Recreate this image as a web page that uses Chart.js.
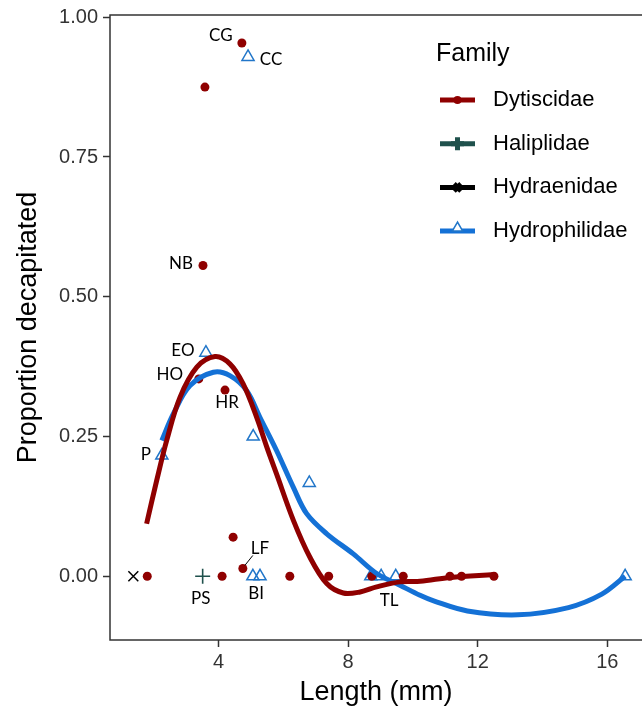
<!DOCTYPE html>
<html>
<head>
<meta charset="utf-8">
<script src="https://cdn.jsdelivr.net/npm/chart.js@4.4.0/dist/chart.umd.min.js"></script>
<style>
    html, body { margin: 0; padding: 0; background: #fff; }
    canvas { display: block; }
</style>
</head>
<body>
<canvas id="beetleChart" width="642" height="711"></canvas>
<script>
// families
var families = ['Dytiscidae', 'Haliplidae', 'Hydraenidae', 'Hydrophilidae'];

// observed points, length (mm) vs proportion decapitated
var dytiscidaeX = [1.80, 3.39, 3.52, 3.58, 4.11, 4.20, 4.45, 4.72, 4.75, 6.20, 7.40, 8.73, 9.70, 11.14, 11.50, 12.50];
var dytiscidaeY = [0, 0.353, 0.556, 0.875, 0, 0.333, 0.07, 0.954, 0.014, 0, 0, 0, 0, 0, 0, 0];
var haliplidaeX = [3.51];
var haliplidaeY = [0];
var hydraenidaeX = [1.37];
var hydraenidaeY = [0];
var hydrophilidaeX = [2.25, 3.61, 4.91, 5.07, 5.06, 5.28, 6.80, 8.70, 9.02, 9.47, 16.55];
var hydrophilidaeY = [0.216, 0.40, 0.929, 0.25, 0, 0, 0.167, 0, 0, 0, 0];

// smoothed curves
var dytiscidaeFitX = [1.78, 2.09, 2.40, 2.81, 3.33, 3.89, 4.35, 4.76, 5.18, 5.49, 5.79, 6.31, 6.82, 7.34, 7.85, 8.37, 8.88, 9.60, 10.22, 11.16, 12.50];
var dytiscidaeFitY = [0.094, 0.171, 0.243, 0.320, 0.374, 0.393, 0.380, 0.344, 0.284, 0.231, 0.183, 0.100, 0.034, -0.013, -0.030, -0.028, -0.019, -0.010, -0.009, -0.002, 0.003];
var hydrophilidaeFitX = [2.25, 2.60, 3.12, 3.84, 4.35, 4.87, 5.28, 5.79, 6.31, 6.72, 7.34, 8.16, 8.88, 9.60, 10.22, 10.64, 11.68, 13.24, 14.80, 15.83, 16.55];
var hydrophilidaeFitY = [0.243, 0.290, 0.341, 0.365, 0.359, 0.332, 0.284, 0.225, 0.159, 0.112, 0.076, 0.040, 0.005, -0.016, -0.034, -0.044, -0.062, -0.069, -0.056, -0.032, 0.0];

// point labels
var pointLabels = ['CG', 'CC', 'NB', 'EO', 'HO', 'HR', 'P', 'LF', 'PS', 'BI', 'TL'];
var labelAtX = [4.72, 4.91, 3.52, 3.61, 3.39, 4.20, 2.25, 4.75, 3.51, 5.28, 9.02];
var labelAtY = [0.954, 0.929, 0.556, 0.40, 0.353, 0.333, 0.216, 0.014, 0, 0, 0];

var xTicks = [4, 8, 12, 16];
var yTicks = [0, 0.25, 0.5, 0.75, 1];

var red = '#8f0000';
var teal = '#1f514c';
var blue = '#1471d6';
var blueMark = '#2176c9';
var axisFont = '"Liberation Sans", Arial, sans-serif';

function toPoints(xs, ys) {
    return xs.map(function (x, i) { return { x: x, y: ys[i] }; });
}

// label offsets in px from their point
var labelOffsets = [[-21, -7], [23, 3], [-22, -2], [-23, -2], [-29, -4], [2, 12], [-16, -1], [17, -20], [-2, 22], [-4, 17], [8, 24]];

var labelPlugin = {
    id: 'pointLabels',
    afterDatasetsDraw: function (chart) {
        var ctx = chart.ctx;
        var xs = chart.scales.x, ys = chart.scales.y;
        ctx.save();
        ctx.font = '17px Lato, "Open Sans", sans-serif';
        ctx.fillStyle = '#000';
        ctx.textAlign = 'center';
        ctx.textBaseline = 'middle';
        pointLabels.forEach(function (txt, i) {
            var px = xs.getPixelForValue(labelAtX[i]);
            var py = ys.getPixelForValue(labelAtY[i]);
            var o = labelOffsets[i];
            ctx.fillText(txt, px + o[0], py + o[1]);
            if (txt === 'LF') {
                ctx.strokeStyle = '#000';
                ctx.lineWidth = 1;
                ctx.beginPath();
                ctx.moveTo(px + 2, py - 3);
                ctx.lineTo(px + 10, py - 13);
                ctx.stroke();
            }
        });
        ctx.restore();
    }
};

var framePlugin = {
    id: 'panelFrame',
    afterDraw: function (chart) {
        var a = chart.chartArea, ctx = chart.ctx;
        ctx.save();
        ctx.strokeStyle = '#333';
        ctx.lineWidth = 1.5;
        ctx.strokeRect(a.left, a.top, a.right - a.left + 10, a.bottom - a.top);
        ctx.restore();
    }
};

var legendPlugin = {
    id: 'familyLegend',
    afterDraw: function (chart) {
        var ctx = chart.ctx;
        var colors = [red, teal, '#000', blue];
        var styles = ['circle', 'cross', 'crossRot'];
        var radii = [4, 6.5, 5];
        ctx.save();
        ctx.fillStyle = '#000';
        ctx.font = '25px ' + axisFont;
        ctx.textBaseline = 'alphabetic';
        ctx.fillText('Family', 436, 61);
        ctx.font = '22px ' + axisFont;
        ctx.textBaseline = 'middle';
        families.forEach(function (name, i) {
            var y = 100 + i * 43.7;
            ctx.strokeStyle = colors[i];
            ctx.lineWidth = 5;
            ctx.beginPath();
            ctx.moveTo(440, y);
            ctx.lineTo(475, y);
            ctx.stroke();
            if (i === 3) {
                // open triangle sitting on the line
                ctx.beginPath();
                ctx.moveTo(457.5, y - 9);
                ctx.lineTo(452.3, y);
                ctx.lineTo(462.7, y);
                ctx.closePath();
                ctx.fillStyle = '#fff';
                ctx.fill();
                ctx.lineWidth = 1.5;
                ctx.strokeStyle = blueMark;
                ctx.stroke();
            } else {
                ctx.fillStyle = colors[i];
                Chart.helpers.drawPoint(ctx, {
                    pointStyle: styles[i], radius: radii[i], rotation: 0,
                    borderWidth: i === 0 ? 0 : 1.5
                }, 457.5, y);
            }
            ctx.fillStyle = '#000';
            ctx.fillText(name, 493, y);
        });
        ctx.restore();
    }
};

var beetleChart = document.getElementById('beetleChart').getContext('2d');

new Chart(beetleChart, {
    type: 'scatter',
    data: {
        datasets: [
            {
                label: 'Dytiscidae fit',
                data: toPoints(dytiscidaeFitX, dytiscidaeFitY),
                showLine: true, borderColor: red, borderWidth: 5, pointRadius: 0,
                tension: 0.35, order: 0
            },
            {
                label: 'Hydrophilidae fit',
                data: toPoints(hydrophilidaeFitX, hydrophilidaeFitY),
                showLine: true, borderColor: blue, borderWidth: 5, pointRadius: 0,
                tension: 0.35, order: 0
            },
            {
                label: 'Dytiscidae',
                data: toPoints(dytiscidaeX, dytiscidaeY),
                pointStyle: 'circle', pointRadius: 4.5, backgroundColor: red,
                borderColor: red, borderWidth: 0, order: 1
            },
            {
                label: 'Haliplidae',
                data: toPoints(haliplidaeX, haliplidaeY),
                pointStyle: 'cross', pointRadius: 7.5, borderColor: teal,
                borderWidth: 1.6, order: 1
            },
            {
                label: 'Hydraenidae',
                data: toPoints(hydraenidaeX, hydraenidaeY),
                pointStyle: 'crossRot', pointRadius: 7, borderColor: '#000',
                borderWidth: 1.5, order: 1
            },
            {
                label: 'Hydrophilidae',
                data: toPoints(hydrophilidaeX, hydrophilidaeY),
                pointStyle: 'triangle', pointRadius: 7, borderColor: blueMark,
                backgroundColor: 'rgba(255,255,255,0)', borderWidth: 1.5, order: 1
            }
        ]
    },
    options: {
        responsive: false,
        animation: false,
        layout: { autoPadding: false, padding: { top: 15, right: 0, left: 0, bottom: 0 } },
        plugins: {
            legend: { display: false },
            tooltip: { enabled: false }
        },
        scales: {
            x: {
                type: 'linear',
                min: 0.65,
                max: 17.07,
                afterFit: function (s) { s.height = 71; s.paddingLeft = 0; s.paddingRight = 0; },
                afterBuildTicks: function (s) { s.ticks = xTicks.map(function (v) { return { value: v }; }); },
                ticks: { font: { family: axisFont, size: 20 }, color: '#333', padding: 3 },
                grid: { drawOnChartArea: false, tickLength: 7, tickWidth: 1.5, tickColor: '#333' },
                border: { display: false },
                title: { display: true, text: 'Length (mm)', color: '#000', font: { family: axisFont, size: 27 }, padding: { bottom: 2 } }
            },
            y: {
                type: 'linear',
                min: -0.114,
                max: 1.004,
                afterFit: function (s) { s.width = 110; s.paddingTop = 0; s.paddingBottom = 0; },
                afterBuildTicks: function (s) { s.ticks = yTicks.map(function (v) { return { value: v }; }); },
                ticks: {
                    font: { family: axisFont, size: 20 }, color: '#333', padding: 5,
                    callback: function (v) { return Number(v).toFixed(2); }
                },
                grid: { drawOnChartArea: false, tickLength: 7, tickWidth: 1.5, tickColor: '#333' },
                border: { display: false },
                title: { display: true, text: 'Proportion decapitated', color: '#000', font: { family: axisFont, size: 27 }, padding: { top: 12 } }
            }
        }
    },
    plugins: [labelPlugin, framePlugin, legendPlugin]
});
</script>
</body>
</html>
